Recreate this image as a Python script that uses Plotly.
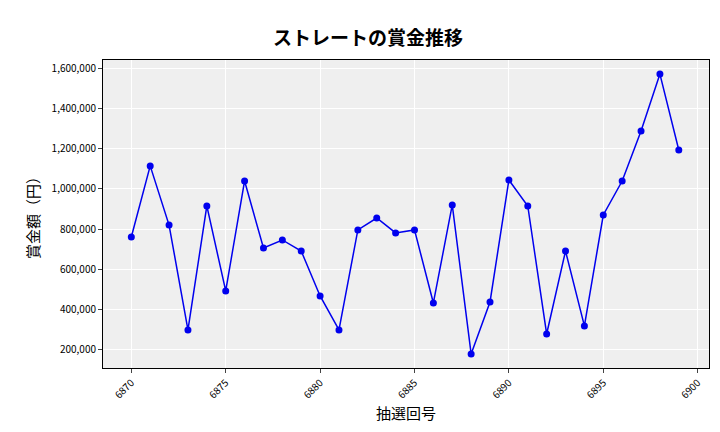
import plotly.graph_objects as go

draws = list(range(6870, 6900))
prizes = [761000, 1114000, 820000, 299000, 915000, 493000, 1039000, 706000, 746000, 691000,
          468000, 299000, 796000, 855000, 781000, 796000, 433000, 920000, 180000, 438000,
          1044000, 915000, 279000, 691000, 319000, 870000, 1039000, 1287000, 1570000, 1193000]
xticks = [6870, 6875, 6880, 6885, 6890, 6895, 6900]
yticks = [200000, 400000, 600000, 800000, 1000000, 1200000, 1400000, 1600000]

fig = go.Figure(go.Scatter(x=draws, y=prizes, mode="lines+markers",
                           line=dict(color="#0000ee", width=1.5),
                           marker=dict(color="#0000ee", size=7)))
font = "Noto Sans CJK JP"
fig.update_layout(
    width=720, height=432, margin=dict(l=95, r=19, t=52, b=72, autoexpand=False),
    paper_bgcolor="white", plot_bgcolor="#efefef", showlegend=False,
    font=dict(family=font, color="black"),
    title=dict(text="<b>ストレートの賞金推移</b>", x=0.5, xanchor="center", y=0.945, font=dict(size=19)),
)
fig.update_xaxes(range=[6868.5, 6900.6], tickvals=xticks, ticktext=[str(t) for t in xticks],
                 tickangle=-45, tickfont=dict(size=10), gridcolor="white", showline=True,
                 linecolor="black", mirror=True, ticks="outside", ticklen=4, zeroline=False,
                 automargin=False,
                 title=dict(text="抽選回号", font=dict(size=15), standoff=8))
fig.update_yaxes(range=[110000, 1640000], tickvals=yticks, ticktext=[f"{v:,}" for v in yticks],
                 tickfont=dict(size=10), gridcolor="white", showline=True, linecolor="black",
                 mirror=True, ticks="outside", ticklen=4, zeroline=False, automargin=False,
                 title=dict(text="賞金額（円）", font=dict(size=15), standoff=8))
fig.write_html("out.html")
